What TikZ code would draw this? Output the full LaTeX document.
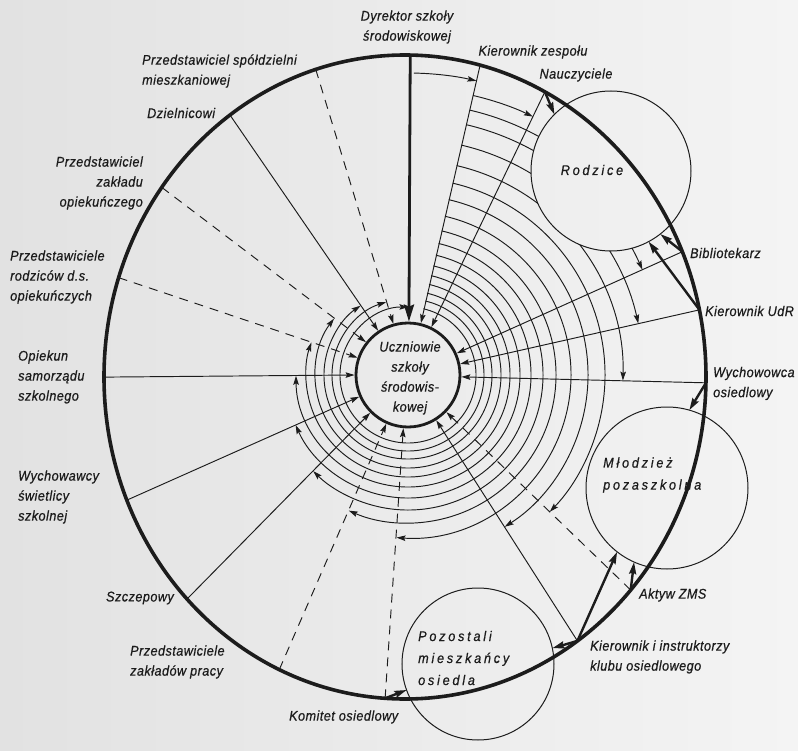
\documentclass[tikz,border=0pt]{standalone}
\usepackage{fontspec}
\setmainfont{Liberation Sans}[LetterSpace=3.5, FakeStretch=0.9, FakeBold=0.6]
\newfontfamily\spacedfont{Liberation Sans}[LetterSpace=20, FakeStretch=0.9, FakeBold=0.6]
\usetikzlibrary{arrows.meta,intersections,calc}
\definecolor{paperL}{RGB}{226,226,226}
\definecolor{paperR}{RGB}{244,244,244}
\definecolor{ink}{RGB}{28,28,28}
\tikzset{
 lbl/.style={font=\fontsize{14}{20}\selectfont\itshape, text=ink, inner sep=0pt, align=left},
 clbl/.style={font=\fontsize{14}{22}\selectfont\spacedfont\itshape, text=ink, inner sep=0pt, align=left},
 thinline/.style={draw=ink, line width=0.95pt},
 arcl/.style={draw=ink, line width=0.95pt, -{Stealth[length=9pt,width=5.5pt,inset=1.5pt]}},
 radl/.style={draw=ink, line width=0.95pt, -{Stealth[length=9pt,width=5.5pt,inset=1.5pt]}},
 dashl/.style={radl, dash pattern=on 9pt off 7pt},
 thickarrow/.style={draw=ink, line width=2.4pt, -{Stealth[length=12pt,width=7pt,inset=1.5pt]}},
 smallcirc/.style={circle, draw=ink, line width=1pt, inner sep=0pt, outer sep=0pt},
}
\begin{document}
\begin{tikzpicture}[x=1pt,y=1pt]
\useasboundingbox (-408,-375) rectangle (390,375);
\shade[left color=paperL, right color=paperR] (-408,-375) rectangle (390,375);

% big ellipse path for intersections
\path[name path=ell] (-3,-2) ellipse [x radius=301, y radius=322];
\foreach \n/\a in {dyr/89.6, spo/106.8, dzi/124.4, zop/142.7, rod/161.4, opi/180.4,
  swi/204.0, szc/225.4, zpr/246.4, kom/265.95, kio/302.5, akt/316,
  wyo/358.5, udr/12.6, bib/24.2, nau/64.2, kz/76.9} {
  \path[name path=ray] (0,0) -- (\a:400);
  \path[name intersections={of=ell and ray, by={P\n}}];
}

% inner node (geometry for arrow ends)
\path (0,0) node[circle, minimum size=104pt, inner sep=0pt, outer sep=1.4pt] (U) {};

% concentric arcs from the Kierownik zespolu line, hidden inside "Rodzice"
\begin{scope}[even odd rule]
\clip (-408,-375) rectangle (390,375) (203,204) circle[radius=80];
\draw[arcl] (88.9:302) arc[start angle=88.9, end angle=76.9, radius=302];
\draw[arcl] (76.9:287) arc[start angle=76.9, end angle=64.2, radius=287];
\draw[thinline] (76.9:272) arc[start angle=76.9, end angle=44, radius=272];
\foreach \R/\e in {257/24.2, 236/12.6, 215/-1.5, 197/-44, 180/-57.5, 163/-94.05,
  148/-113.6, 135/-134.6, 123/-156, 112/-179.6, 102/-198.6, 93/-217.3,
  84/-235.6, 76/-253.2, 68/-270.4} {
  \draw[arcl] (76.9:\R) arc[start angle=76.9, end angle=\e, radius=\R];
}
\end{scope}

% radial connectors
\draw[radl] (Pkz) -- (U.76.9);
\draw[radl] (Pnau) -- (U.64.2);
\draw[radl] (Pbib) -- (U.24.2);
\draw[radl] (Pudr) -- (U.12.6);
\draw[radl] (Pwyo) -- (U.358.5);
\draw[dashl] (Pakt) -- (U.316);
\draw[radl] (Pkio) -- (U.302.5);
\draw[dashl] (Pkom) -- (U.265.95);
\draw[dashl] (Pzpr) -- (U.246.4);
\draw[radl] (Pszc) -- (U.225.4);
\draw[radl] (Pswi) -- (U.204);
\draw[radl] (Popi) -- (U.180.4);
\draw[dashl] (Prod) -- (U.161.4);
\draw[dashl] (Pzop) -- (U.142.7);
\draw[radl] (Pdzi) -- (U.124.4);
\draw[dashl] (Pspo) -- (U.106.8);
\draw[draw=ink, line width=2.8pt, -{Stealth[length=17pt,width=10pt,inset=2pt]}] (Pdyr) -- (U.89.6);

% group circles
\node[smallcirc, minimum size=160pt] (R) at (203,204) {};
\node[smallcirc, minimum size=162pt] (M) at (259,-113) {};
\node[smallcirc, minimum size=152pt] (Poz) at (70,-289) {};

% big ellipse
\draw[ink, line width=3.6pt] (-3,-2) ellipse [x radius=301, y radius=322];

% inner circle
\node[circle, draw=ink, line width=2.8pt, minimum size=104pt, inner sep=0pt] (Uc) at (0,0) {};
\node[lbl, align=center] (Ut) at (2,-3) {Uczniowie\\szkoły\\środowis-\\kowej};

% thick arrows
\draw[thickarrow] (Pnau) -- (R.135);
\draw[thickarrow] (Pbib) -- (R.-52);
\draw[thickarrow] (Pudr) -- (R.-62);
\draw[thickarrow] (Pwyo) -- (M.74);
\draw[thickarrow] (Pakt) -- (M.-114);
\draw[thickarrow] (Pkio) -- (M.-128);
\draw[thickarrow] (Pkio) -- (Poz.12);
\draw[thickarrow] (Pkom) -- (Poz.-160);

% circle labels
\node[clbl, anchor=center] (tR) at (184,205) {Rodzice};
\node[clbl, anchor=west] (tM) at (195,-100) {Młodzież\\pozaszkolna};
\node[clbl, anchor=west] (tP) at (10,-283) {Pozostali\\mieszkańcy\\osiedla};

% person labels
\node[lbl, align=center] (Ldyr) at (-1,348) {Dyrektor szkoły\\środowiskowej};
\node[lbl] (Lkz) at (125,323) {Kierownik zespołu};
\node[lbl] (Lnau) at (168,300) {Nauczyciele};
\node[lbl, anchor=west] (Lbib) at (282,122) {Bibliotekarz};
\node[lbl, anchor=west] (Ludr) at (297,64) {Kierownik UdR};
\node[lbl, anchor=west] (Lwyo) at (305,-8.5) {Wychowowca\\osiedlowy};
\node[lbl, anchor=west] (Lakt) at (231,-220) {Aktyw ZMS};
\node[lbl, anchor=west] (Lkio) at (182,-282) {Kierownik i instruktorzy\\klubu osiedlowego};
\node[lbl, anchor=west] (Lkom) at (-119,-342) {Komitet osiedlowy};
\node[lbl, anchor=west] (Lzpr) at (-278,-287) {Przedstawiciele\\zakładów pracy};
\node[lbl, anchor=east] (Lszc) at (-234,-223) {Szczepowy};
\node[lbl, anchor=west] (Lswi) at (-390,-122) {Wychowawcy\\świetlicy\\szkolnej};
\node[lbl, anchor=west] (Lopi) at (-390,-2) {Opiekun\\samorządu\\szkolnego};
\node[lbl, anchor=west] (Lrod) at (-398,98) {Przedstawiciele\\rodziców d.s.\\opiekuńczych};
\node[lbl, anchor=east, align=right] (Lzop) at (-265,192) {Przedstawiciel\\zakładu\\opiekuńczego};
\node[lbl, anchor=west] (Ldzi) at (-261,262) {Dzielnicowi};
\node[lbl, anchor=west] (Lspo) at (-266,304) {Przedstawiciel spółdzielni\\mieszkaniowej};
\end{tikzpicture}
\end{document}
